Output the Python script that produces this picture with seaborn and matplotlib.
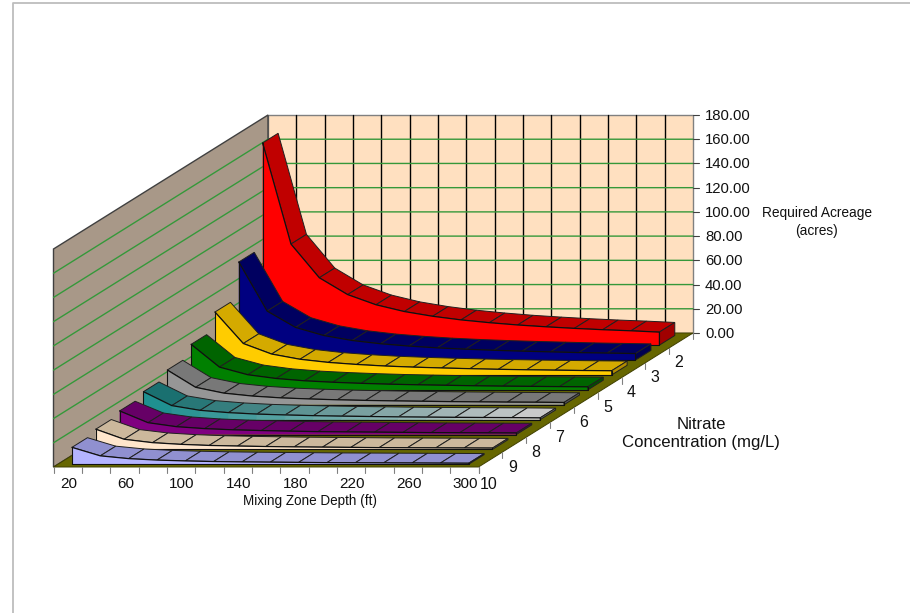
import numpy as np
import pandas as pd
import matplotlib.pyplot as plt
from matplotlib.colors import to_rgb
import seaborn as sns

sns.set_theme(style="white")
plt.rcParams['font.family'] = ['Liberation Sans', 'DejaVu Sans']

# Dados
depths = [20, 40, 60, 80, 100, 120, 140, 160, 180, 200, 220, 240, 260, 280, 300]
depth_ticks = [20, 60, 100, 140, 180, 220, 260, 300]
concentrations = [2, 3, 4, 5, 6, 7, 8, 9, 10]
value_ticks = [0, 20, 40, 60, 80, 100, 120, 140, 160, 180]

acres_2 = [167, 83.5, 55.7, 41.8, 33.4, 27.8, 23.9, 20.9, 18.6, 16.7, 15.2, 13.9, 12.8, 11.9, 10.8]
acres_3 = [81, 40.5, 27, 20.3, 16.2, 13.5, 11.6, 10.1, 9, 8.1, 7.4, 6.8, 6.2, 5.8, 5.4]
acres_4 = [52, 26, 17.3, 13, 10.4, 8.7, 7.4, 6.5, 5.8, 5.2, 4.7, 4.3, 4, 3.7, 3.5]
acres_5 = [37.6, 18.8, 12.5, 9.4, 7.5, 6.3, 5.4, 4.7, 4.2, 3.8, 3.4, 3.1, 2.9, 2.7, 2.5]
acres_6 = [28.7, 14.4, 9.6, 7.2, 5.7, 4.8, 4.1, 3.6, 3.2, 2.9, 2.6, 2.4, 2.2, 2.1, 1.9]
acres_7 = [23.1, 11.6, 7.7, 5.8, 4.6, 3.9, 3.3, 2.9, 2.6, 2.3, 2.1, 1.9, 1.8, 1.7, 1.5]
acres_8 = [19.5, 9.8, 6.5, 4.9, 3.9, 3.3, 2.8, 2.4, 2.2, 2, 1.8, 1.6, 1.5, 1.4, 1.3]
acres_9 = [16.7, 8.4, 5.6, 4.2, 3.3, 2.8, 2.4, 2.1, 1.9, 1.7, 1.5, 1.4, 1.3, 1.2, 1.1]
acres_10 = [14, 7, 4.7, 3.5, 2.8, 2.3, 2, 1.8, 1.6, 1.4, 1.3, 1.2, 1.1, 1, 0.9]
all_acres = [acres_2, acres_3, acres_4, acres_5, acres_6, acres_7, acres_8, acres_9, acres_10]

# cor da frente, do topo e da lateral
front_colors = ['#ff0000', '#000080', '#ffcc00', '#008000', '#969696', '#1f9090', '#800080', '#ffe6cc', '#b4b4ff']
top_colors = ['#c00000', '#000060', '#d4aa00', '#006400', '#787878', '#1a7070', '#660066', '#ccb89c', '#9090d0']
side_colors = ['#a00000', '#000050', '#b08c00', '#005000', '#5a5a5a', '#707070', '#4d004d', '#a89880', '#7070b0']
fade_front = '#c8c8c8'
fade_top = '#cacaca'
FADE_SERIES = 5

# Projecao obliqua, como no Excel 3D
X0, Y0 = 268.0, 333.0
CAT_W = 425.0 / 15
DX, DY = 214.5 / 9, 134.0 / 9
V_SCALE = 218.0 / 180
RIB_BACK, RIB_FRONT = 0.17, 0.82


def proj(cat, row, val=0.0):
    # cat = posicao no eixo x, row = profundidade a partir do fundo, val = acres
    return X0 + cat * CAT_W - row * DX, Y0 + row * DY - val * V_SCALE


fig = plt.figure(figsize=(9.10, 6.13), dpi=100)
ax = fig.add_axes([0, 0, 1, 1])

# moldura do grafico
ax.plot([13, 13, 910], [613, 3, 3], color='#bdbdbd', lw=1.3, zorder=1)

n_cat = len(depths)
n_row = len(concentrations)
z_top = value_ticks[-1]


def quad(points, **kw):
    xs, ys = zip(*points)
    ax.fill(xs, ys, **kw)


# paredes e piso
quad([proj(0, 0), proj(n_cat, 0), proj(n_cat, 0, z_top), proj(0, 0, z_top)], fc='#ffe0c0', ec='#808080', lw=1, zorder=2)
quad([proj(0, n_row), proj(0, 0), proj(0, 0, z_top), proj(0, n_row, z_top)], fc='#a89888', ec='#404040', lw=1, zorder=2)
quad([proj(0, n_row), proj(n_cat, n_row), proj(n_cat, 0), proj(0, 0)], fc='#666600', ec='#404000', lw=0.7, zorder=2)

# grade
for k in range(1, n_cat):
    xs, ys = zip(proj(k, 0), proj(k, 0, z_top))
    ax.plot(xs, ys, color='black', lw=1.0, zorder=3)
for v in value_ticks[1:-1]:
    xs, ys = zip(proj(0, n_row, v), proj(0, 0, v), proj(n_cat, 0, v))
    ax.plot(xs, ys, color='#35983a', lw=1.0, zorder=3)

# ticks e rotulos
for v in value_ticks:
    xa, ya = proj(n_cat, 0, v)
    ax.plot([xa, xa + 6], [ya, ya], color='#404040', lw=0.8, zorder=3)
    ax.text(xa + 12, ya + 1, f'{v:.2f}', fontsize=10.7, ha='left', va='center', color='#111111')
for k in range(n_cat + 1):
    xa, ya = proj(k, n_row)
    ax.plot([xa, xa], [ya, ya + 6], color='#808080', lw=0.8, zorder=3)
for d in depth_ticks:
    xa, ya = proj(depths.index(d) + 0.5, n_row)
    ax.text(xa + 1, ya + 17, str(d), fontsize=11.0, ha='center', va='center', color='#111111')
for r in range(n_row + 1):
    xa, ya = proj(n_cat, r)
    ax.plot([xa, xa], [ya, ya + 6], color='#808080', lw=0.8, zorder=3)
for r, c in enumerate(concentrations):
    xa, ya = proj(n_cat, r + 0.5)
    extra = 2.5 if c == 10 else 0
    ax.text(xa - 2, ya + 22.5 + extra, str(c), fontsize=11.5, ha='center', va='center', color='#111111')

ax.text(817, 222, 'Required Acreage\n(acres)', fontsize=9.9, ha='center', va='center', color='#111111', linespacing=1.3)
ax.text(701, 433.5, 'Nitrate\nConcentration (mg/L)', fontsize=12.1, ha='center', va='center', color='#111111', linespacing=1.25)
ax.text(310, 500.5, 'Mixing Zone Depth (ft)', fontsize=9.75, ha='center', va='center', color='#111111')

# fitas, do fundo para a frente
for r, acres in enumerate(all_acres):
    z = 10 + r * 3
    rb, rf = r + RIB_BACK, r + RIB_FRONT
    last = n_cat - 0.5
    front_pts = [proj(i + 0.5, rf, a) for i, a in enumerate(acres)]

    for i in range(n_cat - 1):
        c0, c1 = i + 0.5, i + 1.5
        ftop = proj(c0, rf, acres[i]), proj(c1, rf, acres[i + 1])
        btop = proj(c1, rb, acres[i + 1]), proj(c0, rb, acres[i])
        col_t = top_colors[r]
        if r == FADE_SERIES:
            t = i / (n_cat - 2)
            col_t = tuple(np.array(to_rgb(top_colors[r])) * (1 - t) + np.array(to_rgb(fade_top)) * t)
            col_f = tuple(np.array(to_rgb(front_colors[r])) * (1 - t) + np.array(to_rgb(fade_front)) * t)
            quad([proj(c0, rf), proj(c1, rf), ftop[1], ftop[0]], fc=col_f, ec=col_f, lw=0.5, zorder=z + 1)
        quad([*ftop, *btop], fc=col_t, ec='#202020', lw=0.7, zorder=z)

    # frente inteira de uma vez, sem emendas
    if r != FADE_SERIES:
        quad([proj(0.5, rf), proj(last, rf), *front_pts[::-1]], fc=front_colors[r], ec='none', zorder=z + 1)

    # lateral direita
    quad([proj(last, rf), proj(last, rb), proj(last, rb, acres[-1]), proj(last, rf, acres[-1])],
         fc=side_colors[r], ec='#202020', lw=0.7, zorder=z + 1)

    # contorno da frente
    fx, fy = zip(*front_pts)
    df = pd.DataFrame({'px': fx, 'py': fy})
    sns.lineplot(data=df, x='px', y='py', color='#101010', lw=0.9, sort=False, estimator=None, ax=ax, zorder=z + 2)
    xs, ys = zip(proj(0.5, rf, acres[0]), proj(0.5, rf), proj(last, rf), proj(last, rf, acres[-1]))
    ax.plot(xs, ys, color='#101010', lw=0.8, zorder=z + 2)

ax.set_xlim(0, 910)
ax.set_ylim(613, 0)
ax.axis('off')
fig.savefig('out.png', dpi=100)
